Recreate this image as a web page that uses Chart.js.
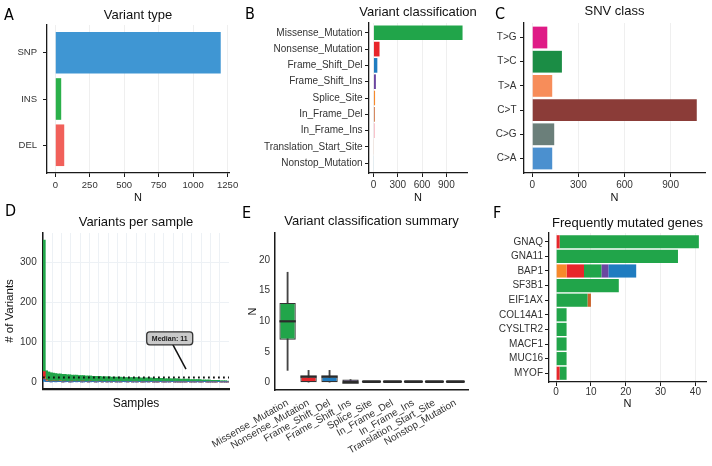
<!DOCTYPE html>
<html lang="en">
<head>
<meta charset="utf-8">
<title>Mutation summary</title>
<script src="https://cdn.jsdelivr.net/npm/chart.js@4.4.1/dist/chart.umd.min.js"></script>
<style>
  html, body { margin: 0; padding: 0; background: #fff; }
  #page { position: relative; width: 712px; height: 466px; overflow: hidden; }
  #page canvas { position: absolute; }
  .tag { position: absolute; font-family: 'Liberation Sans Narrow', 'DejaVu Sans Condensed', sans-serif; font-size: 16px; line-height: 1; color: #000; }
</style>
</head>
<body>
<div id="page">
  <canvas id="panelA" width="238" height="205" style="left:0;top:0"></canvas>
  <canvas id="panelB" width="262" height="205" style="left:240px;top:0"></canvas>
  <canvas id="panelC" width="240" height="205" style="left:472px;top:0"></canvas>
  <canvas id="panelD" width="238" height="212" style="left:0;top:200px"></canvas>
  <canvas id="panelE" width="276" height="266" style="left:200px;top:200px"></canvas>
  <canvas id="panelF" width="240" height="212" style="left:472px;top:200px"></canvas>
  <div class="tag" style="left:4px;top:7px">A</div>
  <div class="tag" style="left:245px;top:6px">B</div>
  <div class="tag" style="left:495px;top:6px">C</div>
  <div class="tag" style="left:5px;top:203px">D</div>
  <div class="tag" style="left:242px;top:205px">E</div>
  <div class="tag" style="left:493px;top:205px">F</div>
</div>
<script>
// A - variant type
const variantTypes = ['SNP', 'INS', 'DEL'];
const variantTypeCounts = [1200, 43, 65];

// B - variant classification
const classNames = ['Missense_Mutation', 'Nonsense_Mutation', 'Frame_Shift_Del', 'Frame_Shift_Ins',
  'Splice_Site', 'In_Frame_Del', 'In_Frame_Ins', 'Translation_Start_Site', 'Nonstop_Mutation'];
const classCounts = [1100, 75, 48, 30, 20, 16, 13, 4, 2];

// C - SNV class
const snvClasses = ['T>G', 'T>C', 'T>A', 'C>T', 'C>G', 'C>A'];
const snvCounts = [98, 193, 130, 1070, 143, 130];

// D - variants per sample (sorted by total)
const sampleMissense = [329, 23, 23, 21, 20, 19, 18, 18, 18, 17,
  17, 17, 15, 16, 15, 15, 14, 14, 14, 14,
  13, 13, 13, 13, 12, 12, 12, 12, 12, 11,
  11, 11, 11, 11, 10, 10, 10, 10, 10, 10,
  10, 9, 10, 9, 9, 9, 9, 9, 8, 9,
  8, 8, 8, 7, 7, 7, 8, 7, 7, 7,
  6, 7, 6, 6, 5, 6, 5, 6, 4, 4,
  5, 5, 3, 4, 4, 3, 3, 2, 3, 2];
const sampleNonsense = [15, 2, 1, 1, 0, 1, 1, 0, 1, 1,
  0, 1, 1, 0, 1, 0, 1, 1, 0, 1,
  1, 0, 1, 0, 1, 1, 0, 1, 0, 1,
  0, 1, 0, 1, 0, 0, 1, 0, 1, 0,
  1, 0, 0, 1, 0, 1, 0, 0, 1, 0,
  0, 1, 0, 0, 1, 0, 0, 1, 0, 0,
  1, 0, 0, 0, 1, 0, 0, 0, 1, 0,
  0, 0, 1, 0, 0, 0, 0, 1, 0, 0];
const sampleFrameShiftDel = [5, 1, 1, 0, 1, 0, 1, 1, 0, 0,
  1, 0, 0, 1, 0, 1, 0, 0, 1, 0,
  0, 1, 0, 0, 1, 0, 1, 0, 0, 0,
  1, 0, 0, 0, 1, 0, 0, 1, 0, 0,
  0, 1, 0, 0, 0, 0, 1, 0, 0, 0,
  1, 0, 0, 0, 0, 1, 0, 0, 0, 0,
  0, 0, 1, 0, 0, 0, 0, 0, 0, 1,
  0, 0, 0, 0, 0, 1, 0, 0, 0, 0];
const sampleFrameShiftIns = [2, 1, 0, 0, 0, 1, 0, 0, 0, 1,
  0, 0, 0, 0, 1, 0, 0, 0, 0, 0,
  1, 0, 0, 0, 0, 0, 0, 0, 1, 0,
  0, 0, 0, 0, 0, 1, 0, 0, 0, 0,
  0, 0, 0, 0, 1, 0, 0, 0, 0, 0,
  0, 0, 0, 0, 0, 0, 0, 0, 0, 0,
  0, 0, 0, 0, 0, 0, 1, 0, 0, 0,
  0, 0, 0, 0, 0, 0, 0, 0, 0, 0];
const sampleSpliceSite = [3, 1, 0, 1, 0, 0, 0, 1, 0, 0,
  0, 0, 1, 0, 0, 0, 0, 1, 0, 0,
  0, 0, 0, 1, 0, 0, 0, 0, 0, 0,
  0, 0, 1, 0, 0, 0, 0, 0, 0, 1,
  0, 0, 0, 0, 0, 0, 0, 0, 0, 0,
  0, 0, 0, 1, 0, 0, 0, 0, 0, 0,
  0, 0, 0, 0, 0, 0, 0, 0, 0, 0,
  0, 0, 0, 0, 0, 0, 0, 0, 0, 0];
const sampleInFrameDel = [1, 0, 0, 0, 1, 0, 0, 0, 0, 0,
  0, 0, 0, 0, 0, 0, 1, 0, 0, 0,
  0, 0, 0, 0, 0, 0, 0, 0, 0, 0,
  0, 0, 0, 0, 0, 0, 0, 0, 0, 0,
  0, 0, 0, 0, 0, 0, 0, 0, 0, 0,
  0, 0, 0, 0, 0, 0, 0, 0, 0, 0,
  0, 0, 0, 0, 0, 0, 0, 0, 0, 0,
  0, 0, 0, 0, 0, 0, 0, 0, 0, 0];
const medianVariants = 11;

// E - variant classification summary (per-sample box stats)
const boxLow = [2, 0, 0, 0, 0, 0, 0, 0, 0];
const boxQ1 = [7, 0, 0, 0, 0, 0, 0, 0, 0];
const boxMedian = [10, 1, 1, 0, 0, 0, 0, 0, 0];
const boxQ3 = [13, 1, 1, 0.5, 0, 0, 0, 0, 0];
const boxHigh = [18, 2, 2, 0.5, 0, 0, 0, 0, 0];

// F - frequently mutated genes
const genes = ['GNAQ', 'GNA11', 'BAP1', 'SF3B1', 'EIF1AX', 'COL14A1', 'CYSLTR2', 'MACF1', 'MUC16', 'MYOF'];
const geneSplice = [0, 0, 3, 0, 0, 0, 0, 0, 0, 0];
const geneNonsense = [1, 0, 5, 0, 0, 0, 0, 0, 0, 1];
const geneMissense = [40, 35, 5, 18, 9, 3, 3, 3, 3, 2];
const geneFrameShiftIns = [0, 0, 2, 0, 0, 0, 0, 0, 0, 0];
const geneFrameShiftDel = [0, 0, 8, 0, 0, 0, 0, 0, 0, 0];
const geneInFrameDel = [0, 0, 0, 0, 1, 0, 0, 0, 0, 0];

const classColors = {
  Missense_Mutation: '#21a54a',
  Nonsense_Mutation: '#e8262b',
  Frame_Shift_Del: '#1f7cc0',
  Frame_Shift_Ins: '#6b46a0',
  Splice_Site: '#f7892b',
  In_Frame_Del: '#c9632c',
  In_Frame_Ins: '#f4899a',
  Translation_Start_Site: '#f9c7b0',
  Nonstop_Mutation: '#cfe6f3'
};

Chart.defaults.font.family = "'Liberation Sans', Arial, sans-serif";
Chart.defaults.font.size = 10;
Chart.defaults.color = '#333';
Chart.defaults.animation = false;
Chart.defaults.responsive = false;
Chart.defaults.plugins.legend.display = false;
Chart.defaults.plugins.tooltip.enabled = false;

const INK = '#1a1a1a';
const GRID = '#efefef';

// title centred over the plot area (the built-in one squeezes long titles)
Chart.register({
  id: 'panelTitle',
  afterDraw(chart, args, opts) {
    if (!opts.text) return;
    const { ctx, chartArea } = chart;
    ctx.save();
    ctx.font = "13px 'Liberation Sans', Arial, sans-serif";
    ctx.fillStyle = '#111';
    ctx.textAlign = 'center';
    ctx.textBaseline = 'middle';
    ctx.fillText(opts.text, (chartArea.left + chartArea.right) / 2, opts.y);
    ctx.restore();
  }
});

// force axis box sizes so the plot areas line up like the original figure
function fixSize(px) {
  return function (scale) {
    if (scale.isHorizontal()) scale.height = px;
    else scale.width = px;
    scale.paddingLeft = 0;
    scale.paddingRight = 0;
    scale.paddingTop = 0;
    scale.paddingBottom = 0;
  };
}
function fixTicks(values) {
  return function (scale) {
    scale.ticks = values.map(v => ({ value: v }));
  };
}

function hbar(id, names, series, g) {
  return new Chart(document.getElementById(id), {
    type: 'bar',
    data: {
      datasets: series.map(s => ({
        label: s.label,
        data: s.values.map((v, i) => ({ x: v, y: i })),
        backgroundColor: s.color,
        barPercentage: 0.9,
        categoryPercentage: 1
      }))
    },
    options: {
      indexAxis: 'y',
      layout: { padding: { left: 0, top: g.top, right: g.padRight, bottom: 0 } },
      plugins: { panelTitle: { text: g.title, y: g.titleY } },
      scales: {
        x: {
          type: 'linear', min: g.xMin, max: g.xMax, stacked: !!g.stacked,
          afterFit: fixSize(g.xHeight),
          afterBuildTicks: fixTicks(g.xTicks),
          grid: { color: GRID, tickColor: INK, tickLength: 4 },
          border: { color: INK, width: 1.3 },
          ticks: { padding: g.xPad, font: { size: g.tick }, autoSkip: false, callback: v => String(v) },
          title: { display: true, text: 'N', color: '#111', font: { size: 11 }, padding: { top: 0, bottom: g.nPad } }
        },
        y: {
          type: 'linear', reverse: true, offset: false,
          min: -0.6, max: names.length - 0.4, stacked: !!g.stacked,
          afterFit: fixSize(g.yWidth),
          afterBuildTicks: fixTicks(names.map((_, i) => i)),
          grid: { offset: false, drawOnChartArea: false, tickColor: INK, tickLength: 4 },
          border: { color: INK, width: 1.3 },
          ticks: { padding: g.yPad, font: { size: g.tick }, autoSkip: false, callback: v => names[v] }
        }
      }
    }
  });
}

// A
hbar('panelA', variantTypes,
  [{ label: 'N', values: variantTypeCounts, color: ['#3f96d3', '#2bb04a', '#f1605a'] }],
  { title: 'Variant type', titleY: 15, top: 25, padRight: 9,
    xMin: -60, xMax: 1260, xTicks: [0, 250, 500, 750, 1000, 1250],
    xHeight: 32, yWidth: 47, xPad: 2.3, yPad: 6, nPad: 0.4, tick: 9.5 });

// B
hbar('panelB', classNames,
  [{ label: 'N', values: classCounts, color: classNames.map(c => classColors[c]) }],
  { title: 'Variant classification', titleY: 12.5, top: 23, padRight: 35,
    xMin: -55, xMax: 1155, xTicks: [0, 300, 600, 900],
    xHeight: 32, yWidth: 129, xPad: 2, yPad: 2.5, nPad: 0.4, tick: 10 });

// C
hbar('panelC', snvClasses,
  [{ label: 'N', values: snvCounts, color: ['#df1b86', '#1b8d45', '#f78d5a', '#8b3c38', '#6b7f7a', '#4b90cf'] }],
  { title: 'SNV class', titleY: 11.5, top: 23, padRight: 7,
    xMin: -53.5, xMax: 1123.5, xTicks: [0, 300, 600, 900],
    xHeight: 32, yWidth: 52, xPad: 2, yPad: 3.5, nPad: 0.4, tick: 10 });

// F
hbar('panelF', genes, [
  { label: 'Splice_Site', values: geneSplice, color: classColors.Splice_Site },
  { label: 'Nonsense_Mutation', values: geneNonsense, color: classColors.Nonsense_Mutation },
  { label: 'Missense_Mutation', values: geneMissense, color: classColors.Missense_Mutation },
  { label: 'Frame_Shift_Ins', values: geneFrameShiftIns, color: classColors.Frame_Shift_Ins },
  { label: 'Frame_Shift_Del', values: geneFrameShiftDel, color: classColors.Frame_Shift_Del },
  { label: 'In_Frame_Del', values: geneInFrameDel, color: classColors.In_Frame_Del }
], { title: 'Frequently mutated genes', titleY: 23.3, top: 33, padRight: 6,
     xMin: -2.05, xMax: 43.05, xTicks: [0, 10, 20, 30, 40], stacked: true,
     xHeight: 30, yWidth: 77, xPad: 0.7, yPad: 2, nPad: 1.4, tick: 10 });

// D
const medianNote = {
  id: 'medianNote',
  afterDatasetsDraw(chart) {
    const { ctx, chartArea, scales: { x, y } } = chart;
    const yMed = y.getPixelForValue(medianVariants);
    ctx.save();
    ctx.strokeStyle = '#111';
    ctx.lineWidth = 1.8;
    ctx.setLineDash([1.8, 3.2]);
    ctx.beginPath();
    ctx.moveTo(chartArea.left, yMed);
    ctx.lineTo(chartArea.right, yMed);
    ctx.stroke();
    ctx.setLineDash([]);

    const bx = x.getPixelForValue(54), by = y.getPixelForValue(109);
    const tx = x.getPixelForValue(61), ty = y.getPixelForValue(32);
    ctx.lineWidth = 1.5;
    ctx.beginPath();
    ctx.moveTo(bx + 3, by + 6);
    ctx.lineTo(tx, ty);
    ctx.stroke();

    const w = 46, h = 13;
    ctx.beginPath();
    ctx.roundRect(bx - w / 2, by - h / 2, w, h, 3);
    ctx.fillStyle = '#c9c9c9';
    ctx.fill();
    ctx.strokeStyle = '#333';
    ctx.lineWidth = 1.3;
    ctx.stroke();
    ctx.fillStyle = '#1a1a1a';
    ctx.font = "bold 7px 'Liberation Sans', Arial, sans-serif";
    ctx.textAlign = 'center';
    ctx.textBaseline = 'middle';
    ctx.fillText('Median: ' + medianVariants, bx, by + 0.5);
    ctx.restore();
  }
};

const sampleIds = sampleMissense.map((_, i) => 'S' + (i + 1));
const sampleSeries = [
  ['Frame_Shift_Del', sampleFrameShiftDel],
  ['Frame_Shift_Ins', sampleFrameShiftIns],
  ['Splice_Site', sampleSpliceSite],
  ['In_Frame_Del', sampleInFrameDel],
  ['Nonsense_Mutation', sampleNonsense],
  ['Missense_Mutation', sampleMissense]
];

new Chart(document.getElementById('panelD'), {
  type: 'bar',
  data: {
    labels: sampleIds,
    datasets: sampleSeries.map(([name, values]) => ({
      label: name,
      data: values,
      backgroundColor: classColors[name],
      barPercentage: 1,
      categoryPercentage: 1
    }))
  },
  options: {
    layout: { padding: { left: 0, top: 33, right: 9, bottom: 0 } },
    plugins: { panelTitle: { text: 'Variants per sample', y: 22.7 } },
    scales: {
      x: {
        stacked: true,
        afterFit: fixSize(23),
        grid: { color: ctx => ctx.index % 4 === 0 ? '#edf1f5' : 'rgba(0,0,0,0)', drawTicks: false },
        border: { color: INK, width: 2.2 },
        ticks: { display: false },
        title: { display: true, text: 'Samples', color: '#111', font: { size: 12 }, padding: { top: 0, bottom: 1.5 } }
      },
      y: {
        stacked: true, min: -17.75, max: 372.75,
        afterFit: fixSize(43),
        afterBuildTicks: fixTicks([0, 100, 200, 300]),
        grid: { color: '#edf1f5', drawTicks: false },
        border: { color: INK, width: 1.5 },
        ticks: { padding: 6.3, font: { size: 10 } },
        title: { display: true, text: '# of Variants', color: '#111', font: { size: 11.5 }, padding: { top: 3.1, bottom: 0 } }
      }
    }
  },
  plugins: [medianNote]
});

// E
const boxMedians = {
  id: 'boxMedians',
  afterDatasetsDraw(chart) {
    const { ctx } = chart;
    const y = chart.scales.y;
    const bars = chart.getDatasetMeta(0).data;
    ctx.save();
    ctx.strokeStyle = '#2b2b2b';
    bars.forEach((bar, i) => {
      const flat = boxQ1[i] === boxQ3[i];
      ctx.lineWidth = flat ? 2.8 : 2.2;
      ctx.lineCap = flat ? 'round' : 'butt';
      const py = y.getPixelForValue(boxMedian[i]) - (flat ? 1 : 0);
      ctx.beginPath();
      ctx.moveTo(bar.x - bar.width / 2, py);
      ctx.lineTo(bar.x + bar.width / 2, py);
      ctx.stroke();
    });
    ctx.restore();
  }
};

new Chart(document.getElementById('panelE'), {
  type: 'bar',
  data: {
    datasets: [
      {
        label: 'box',
        data: classNames.map((_, i) => ({ x: i, y: [boxQ1[i], boxQ3[i]] })),
        backgroundColor: classNames.map(c => classColors[c]),
        borderColor: '#333',
        borderWidth: 1.2,
        borderSkipped: false,
        barPercentage: 0.78,
        categoryPercentage: 1,
        grouped: false
      },
      {
        label: 'whisker',
        data: classNames.map((_, i) => ({ x: i, y: [boxLow[i], boxHigh[i]] })),
        backgroundColor: '#444',
        barThickness: 1.2,
        grouped: false
      }
    ]
  },
  options: {
    layout: { padding: { left: 0, top: 33, right: 8, bottom: 0 } },
    plugins: { panelTitle: { text: 'Variant classification summary', y: 21.7 } },
    scales: {
      x: {
        type: 'linear', offset: false, min: -0.6, max: classNames.length - 0.4,
        afterFit: fixSize(76),
        afterBuildTicks: fixTicks(classNames.map((_, i) => i)),
        grid: { offset: false, drawOnChartArea: false, drawTicks: false },
        border: { color: INK, width: 1.5 },
        ticks: { padding: 7, minRotation: 30, maxRotation: 30, autoSkip: false, font: { size: 10 },
                 callback: v => classNames[v] }
      },
      y: {
        min: -1.2, max: 24.4,
        afterFit: fixSize(75),
        afterBuildTicks: fixTicks([0, 5, 10, 15, 20]),
        grid: { drawOnChartArea: false, drawTicks: false },
        border: { color: INK, width: 1.5 },
        ticks: { padding: 5, font: { size: 10 } },
        title: { display: true, text: 'N', color: '#111', font: { size: 11 }, padding: { top: 46.1, bottom: 0 } }
      }
    }
  },
  plugins: [boxMedians]
});
</script>
</body>
</html>
